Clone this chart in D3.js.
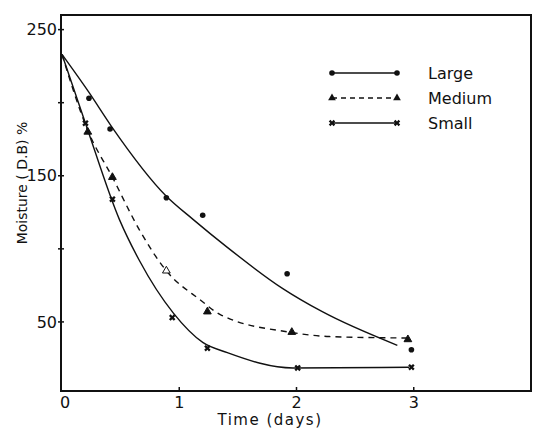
<!DOCTYPE html>
<html>
<head>
<meta charset="utf-8">
<script src="https://cdn.jsdelivr.net/npm/d3@7"></script>
<style>
  body { margin: 0; background: #fff; }
  text { font-family: "DejaVu Sans", sans-serif; fill: #111; }
</style>
</head>
<body>
<svg id="chart"></svg>
<script>
// measured points (days, moisture % D.B)
const largeDays = [0, 0.23, 0.41, 0.89, 1.20, 1.92, 2.98]
const largeVals = [233, 203, 182, 135, 123, 83, 31]
const mediumDays = [0.22, 0.43, 0.89, 1.24, 1.96, 2.95]
const mediumVals = [180, 149, 85, 57, 43, 38]
const smallDays = [0.20, 0.43, 0.94, 1.24, 2.01, 2.98]
const smallVals = [186, 134, 53, 32, 18.5, 19]

// fitted curves as drawn on the figure
const largeFitDays = [0, 0.23, 0.42, 0.89, 1.12, 1.41, 1.88, 2.22, 2.86]
const largeFitVals = [233, 207, 184, 136, 120, 101, 73, 57, 34]
const mediumFitDays = [0, 0.22, 0.43, 0.66, 0.89, 1.18, 1.35, 1.94, 2.28, 2.94]
const mediumFitVals = [233, 181, 149, 113, 85, 65, 55, 43, 40, 39]
const smallFitDays = [0, 0.20, 0.49, 0.66, 0.95, 1.20, 1.41, 1.97, 2.96]
const smallFitVals = [233, 186, 120, 92, 56, 36, 29, 18.5, 19]

const xTicks = [0, 1, 2, 3]
const yTicks = [0, 50, 100, 150, 200, 250]
const yLabels = [50, 150, 250]
const legendNames = ['Large', 'Medium', 'Small']

const width = 540, height = 431

const svg = d3.select('#chart')
    .attr('width', width)
    .attr('height', height)

const x = d3.scaleLinear().domain([0, 4]).range([62, 531])
const y = d3.scaleLinear().domain([0, 260]).range([395, 15])

// frame
svg.append('rect')
    .attr('x', 61).attr('y', 15)
    .attr('width', 470).attr('height', 376)
    .attr('fill', 'none')
    .attr('stroke', '#111')
    .attr('stroke-width', 2)

// y ticks
svg.append('g')
    .selectAll('line')
    .data(yTicks.filter(d => d > 0))
    .join('line')
    .attr('x1', 58).attr('x2', 64)
    .attr('y1', d => y(d)).attr('y2', d => y(d))
    .attr('stroke', '#111')
    .attr('stroke-width', 1.5)

svg.append('g')
    .selectAll('text')
    .data(yLabels)
    .join('text')
    .attr('x', 57)
    .attr('y', d => y(d))
    .attr('dy', '0.35em')
    .attr('text-anchor', 'end')
    .attr('font-size', 16)
    .text(d => d)

// x ticks
svg.append('g')
    .selectAll('line')
    .data(xTicks.filter(d => d > 0))
    .join('line')
    .attr('x1', d => x(d)).attr('x2', d => x(d))
    .attr('y1', 387).attr('y2', 391)
    .attr('stroke', '#111')
    .attr('stroke-width', 1.5)

svg.append('g')
    .selectAll('text')
    .data(xTicks)
    .join('text')
    .attr('x', d => x(d) + (d === 0 ? 3 : 0))
    .attr('y', 408)
    .attr('text-anchor', 'middle')
    .attr('font-size', 16)
    .text(d => d)

// axis titles
svg.append('text')
    .attr('x', 270).attr('y', 425)
    .attr('text-anchor', 'middle')
    .attr('font-size', 15)
    .attr('letter-spacing', 1.5)
    .text('Time (days)')

svg.append('text')
    .attr('transform', 'translate(27,183) rotate(-90)')
    .attr('text-anchor', 'middle')
    .attr('font-size', 14)
    .text('Moisture ( D.B) %')

// curves
const fit = d3.line()
    .x(d => x(d[0]))
    .y(d => y(d[1]))
    .curve(d3.curveMonotoneX)

const curves = [
    { days: largeFitDays, vals: largeFitVals, dash: null },
    { days: mediumFitDays, vals: mediumFitVals, dash: '6,5' },
    { days: smallFitDays, vals: smallFitVals, dash: null }
]

svg.append('g')
    .selectAll('path')
    .data(curves)
    .join('path')
    .attr('d', c => fit(d3.zip(c.days, c.vals)))
    .attr('fill', 'none')
    .attr('stroke', '#111')
    .attr('stroke-width', 1.4)
    .attr('stroke-dasharray', c => c.dash)

// markers
const tri = d3.symbol().type(d3.symbolTriangle).size(26)
const cross = d3.symbol().type(d3.symbolCross).size(26)

svg.append('g')
    .selectAll('circle')
    .data(d3.zip(largeDays, largeVals).slice(1))
    .join('circle')
    .attr('cx', d => x(d[0]))
    .attr('cy', d => y(d[1]))
    .attr('r', 2.8)
    .attr('fill', '#111')

svg.append('g')
    .selectAll('path')
    .data(d3.zip(mediumDays, mediumVals))
    .join('path')
    .attr('d', tri)
    .attr('transform', d => `translate(${x(d[0])},${y(d[1])})`)
    .attr('fill', (d, i) => i === 2 ? '#fff' : '#111')
    .attr('stroke', '#111')
    .attr('stroke-width', 1)

svg.append('g')
    .selectAll('path')
    .data(d3.zip(smallDays, smallVals))
    .join('path')
    .attr('d', cross)
    .attr('transform', d => `translate(${x(d[0])},${y(d[1])}) rotate(45)`)
    .attr('fill', '#111')

// legend
const legend = svg.append('g')
const rows = legendNames.map((name, i) => ({ name, i, yy: 73 + i * 25 }))

legend.selectAll('line')
    .data(rows)
    .join('line')
    .attr('x1', 332).attr('x2', 397)
    .attr('y1', d => d.yy).attr('y2', d => d.yy)
    .attr('stroke', '#111')
    .attr('stroke-width', 1.4)
    .attr('stroke-dasharray', d => d.i === 1 ? '5,4' : null)

legend.selectAll('g.mk')
    .data(rows)
    .join('g')
    .attr('class', 'mk')
    .each(function (d) {
        const g = d3.select(this)
        ;[332, 397].forEach(px => {
            if (d.i === 0) {
                g.append('circle').attr('cx', px).attr('cy', d.yy).attr('r', 2.8).attr('fill', '#111')
            } else if (d.i === 1) {
                g.append('path').attr('d', tri).attr('transform', `translate(${px},${d.yy})`).attr('fill', '#111')
            } else {
                g.append('path').attr('d', cross).attr('transform', `translate(${px},${d.yy}) rotate(45)`).attr('fill', '#111')
            }
        })
    })

legend.selectAll('text')
    .data(rows)
    .join('text')
    .attr('x', 428)
    .attr('y', d => d.yy)
    .attr('dy', '0.35em')
    .attr('font-size', 16)
    .text(d => d.name)
</script>
</body>
</html>
